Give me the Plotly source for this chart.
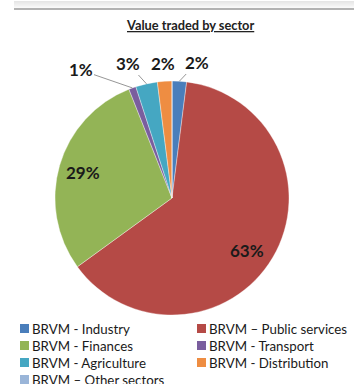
import math
import plotly.graph_objects as go

labels = ["BRVM - Industry", "BRVM – Public services", "BRVM - Finances",
          "BRVM - Transport", "BRVM - Agriculture", "BRVM - Distribution",
          "BRVM – Other sectors"]
values = [2, 63, 29, 1, 3, 2, 0]
colors = ["#4A7EBB", "#B54A46", "#93B456", "#7A5E9E", "#45A7C2", "#EE8D42", "#9AB5D8"]
title = "Value traded by sector"

# data-label placement (pixel centres) and whether a leader line is drawn
label_pos = [(197.5, 62), (247, 250), (83, 173), (80.5, 70), (127.5, 63), (162.5, 63), None]
leader = [True, False, False, True, True, False, False]

W, H = 354, 384
CX, CY, R = 172, 198, 117  # pie domain centre / radius in pixels

fig = go.Figure(go.Pie(
    labels=labels, values=values, sort=False, direction="clockwise", rotation=0,
    marker=dict(colors=colors, line=dict(color="rgba(255,255,255,0.6)", width=0.6)),
    textinfo="none",
    domain=dict(x=[(CX-R)/W, (CX+R)/W], y=[1-(CY+R)/H, 1-(CY-R)/H]),
    showlegend=False, hoverinfo="label+percent",
))

def px(x, y):
    return x / W, 1 - y / H

annotations = []
tx, ty = px(190, 25)
annotations.append(dict(text="<b><u>%s</u></b>" % title, x=tx, y=ty, xref="paper", yref="paper",
                        xanchor="center", yanchor="middle", showarrow=False,
                        font=dict(family="Lato", size=12.8, color="#222")))

# percentage labels, leader lines end on the slice edge at the slice mid-angle
total = sum(values)
cum = 0
for v, pos, lead in zip(values, label_pos, leader):
    mid = (cum + v / 2) / total
    cum += v
    if v == 0 or pos is None:
        continue
    txt = "<b>%d%%</b>" % round(100 * v / total)
    font = dict(family="Lato", size=17, color="#1a1a1a")
    if lead:
        ang = 2 * math.pi * mid
        ex, ey = CX + R * math.sin(ang), CY - R * math.cos(ang)
        x, y = px(ex, ey)
        annotations.append(dict(text=txt, x=x, y=y, xref="paper", yref="paper",
                                ax=pos[0] - ex, ay=pos[1] - ey, showarrow=True,
                                arrowhead=0, arrowwidth=0.9, arrowcolor="#8a8a8a",
                                standoff=0, font=font))
    else:
        x, y = px(*pos)
        annotations.append(dict(text=txt, x=x, y=y, xref="paper", yref="paper",
                                xanchor="center", yanchor="middle",
                                showarrow=False, font=font))

# top frame line with soft shadow
shapes = []
for i in range(8):
    shapes.append(dict(type="rect", xref="paper", yref="paper",
                       x0=14/W, x1=1, y0=1-(9-i)/H, y1=1-(8-i)/H,
                       line=dict(width=0), fillcolor="rgba(150,150,150,%.2f)" % (0.03*(i+1))))
shapes.append(dict(type="line", xref="paper", yref="paper", x0=14/W, x1=1,
                   y0=1-9/H, y1=1-9/H, line=dict(color="#9a9a9a", width=1.5)))

# legend built from the labels/colors lists (two columns, row-major)
col_x = [20, 197]
row_y0, row_dy = 328.5, 17
for i, (lab, col) in enumerate(zip(labels, colors)):
    cx = col_x[i % 2]
    cy = row_y0 + row_dy * (i // 2)
    shapes.append(dict(type="rect", xref="paper", yref="paper",
                       x0=cx/W, x1=(cx+9)/W, y0=1-(cy+4.5)/H, y1=1-(cy-4.5)/H,
                       fillcolor=col, line=dict(width=0)))
    x, y = px(cx + 10, cy)
    annotations.append(dict(text=lab, x=x, y=y, xref="paper", yref="paper",
                            xanchor="left", yanchor="middle", showarrow=False,
                            font=dict(family="Lato", size=13.3, color="#1a1a1a")))

fig.update_layout(width=W, height=H, margin=dict(l=0, r=0, t=0, b=0),
                  paper_bgcolor="white", plot_bgcolor="white",
                  shapes=shapes, annotations=annotations)
fig.write_html("out.html")
